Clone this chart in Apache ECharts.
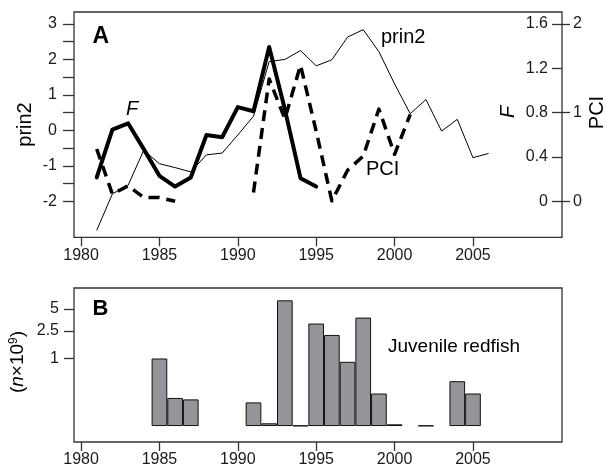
<!DOCTYPE html>
<html>
<head>
<meta charset="utf-8">
<script src="https://cdn.jsdelivr.net/npm/echarts@6/dist/echarts.min.js"></script>
<style>
html,body{margin:0;padding:0;background:#fff;}
#chart{width:607px;height:474px;}
</style>
</head>
<body>
<div id="chart"></div>
<script>
// ---- Data ----
const prin2Years = [1981,1982,1983,1984,1985,1986,1987,1988,1989,1990,1991,1992,1993,1994,1995,1996,1997,1998,1999,2000,2001,2002,2003,2004,2005,2006];
const prin2Vals  = [-2.82,-1.79,-1.55,-0.56,-0.94,-1.05,-1.17,-0.69,-0.64,-0.13,0.40,1.94,2.00,2.25,1.82,1.99,2.63,2.84,2.22,1.31,0.47,0.87,-0.02,0.31,-0.77,-0.65];

const fYears = [1981,1982,1983,1984,1985,1986,1987,1988,1989,1990,1991,1992,1993,1994,1995];
const fVals  = [0.215,0.647,0.704,0.471,0.23,0.133,0.215,0.598,0.578,0.85,0.813,1.393,0.83,0.209,0.133];

const pciYears = [1981,1982,1983,1984,1985,1986,1987,1988,1989,1990,1991,1992,1993,1994,1995,1996,1997,1998,1999,2000,2001];
const pciVals  = [0.59,0.08,0.175,0.042,0.042,0.0,null,null,null,null,0.1,1.38,0.93,1.535,0.79,0.005,0.35,0.51,1.04,0.53,0.98];

const redfishYears = [1985,1986,1987,1991,1992,1993,1994,1995,1996,1997,1998,1999,2000,2002,2004,2005];
const redfishVals  = [1.0,0.2,0.185,0.156,0.013,6.5,0.002,3.15,2.19,0.89,3.8,0.25,0.008,0.002,0.43,0.25];

const xTicks = [1980,1985,1990,1995,2000,2005];
const prin2Ticks = [-2,-1.5,-1,-0.5,0,0.5,1,1.5,2,2.5,3];
const prin2Labels = [-2,-1,0,1,2,3];
const fTicks = [0,0.4,0.8,1.2,1.6];
const pciTicks = [0,1,2];
const redfishTicks = [1,2.5,5];

// ---- scale helper for panel B (log of n with an offset) ----
const OFF = 0.15;
const tB = n => Math.log10(1 + n / OFF);

const FONT = "'Liberation Sans', Arial, sans-serif";
const TXT = '#1a1a1a';

const chart = echarts.init(document.getElementById('chart'));

const lineA = (years, vals) => years.map((y, i) => [y, vals[i] === null ? '-' : vals[i]]);

function xAxisFor(gi) {
  return {
    gridIndex: gi, type: 'value', min: 1979.55, max: 2010.68,
    axisLine: { show: false, onZero: false },
    splitLine: { show: false },
    axisTick: { show: true, customValues: xTicks, length: 9, lineStyle: { color: '#333', width: 1.3 } },
    axisLabel: { customValues: xTicks, fontSize: 16, color: TXT, fontFamily: FONT, margin: 10, formatter: v => String(v) }
  };
}
const plainFmt = v => String(v);

const option = {
  animation: false,
  backgroundColor: '#fff',
  grid: [
    { left: 74, top: 12, width: 488, height: 225.3, show: true, borderColor: '#333', borderWidth: 1.3, backgroundColor: 'transparent' },
    { left: 74, top: 288, width: 488, height: 154, show: true, borderColor: '#333', borderWidth: 1.3, backgroundColor: 'transparent' }
  ],
  xAxis: [ xAxisFor(0), xAxisFor(1) ],
  yAxis: [
    { gridIndex: 0, type: 'value', min: -3.015, max: 3.338, position: 'left',
      axisLine: { show: false, onZero: false }, splitLine: { show: false },
      axisTick: { show: true, customValues: prin2Ticks, length: 11, lineStyle: { color: '#333', width: 1.3 } },
      axisLabel: { customValues: prin2Labels, fontSize: 16, color: TXT, fontFamily: FONT, margin: 17, formatter: plainFmt } },
    { gridIndex: 0, type: 'value', min: -0.3248, max: 1.7082, position: 'right',
      axisLine: { show: false, onZero: false }, splitLine: { show: false },
      axisTick: { show: true, inside: true, customValues: fTicks, length: 10, lineStyle: { color: '#333', width: 1.3 } },
      axisLabel: { inside: true, customValues: fTicks, fontSize: 16, color: TXT, fontFamily: FONT, margin: 14, formatter: plainFmt } },
    { gridIndex: 0, type: 'value', min: -0.406, max: 2.1352, position: 'right',
      axisLine: { show: false, onZero: false }, splitLine: { show: false },
      axisTick: { show: true, customValues: pciTicks, length: 8, lineStyle: { color: '#333', width: 1.3 } },
      axisLabel: { customValues: pciTicks, fontSize: 16, color: TXT, fontFamily: FONT, margin: 11, formatter: plainFmt } },
    { gridIndex: 1, type: 'value', min: -0.209, max: 1.808, position: 'left',
      axisLine: { show: false, onZero: false }, splitLine: { show: false },
      axisTick: { show: true, customValues: redfishTicks.map(tB), length: 10, lineStyle: { color: '#333', width: 1.3 } },
      axisLabel: { customValues: redfishTicks.map(tB), fontSize: 16, color: TXT, fontFamily: FONT, margin: 15,
        formatter: v => { let best = redfishTicks[0]; redfishTicks.forEach(t => { if (Math.abs(tB(t) - v) < Math.abs(tB(best) - v)) best = t; }); return String(best); } } }
  ],
  series: [
    { name: 'prin2', type: 'line', xAxisIndex: 0, yAxisIndex: 0, data: lineA(prin2Years, prin2Vals),
      symbol: 'none', lineStyle: { color: '#000', width: 1 }, z: 3 },
    { name: 'F', type: 'line', xAxisIndex: 0, yAxisIndex: 1, data: lineA(fYears, fVals),
      symbol: 'none', lineStyle: { color: '#000', width: 4, join: 'round', cap: 'round' }, z: 4 },
    { name: 'PCI', type: 'line', xAxisIndex: 0, yAxisIndex: 2, data: lineA(pciYears, pciVals),
      symbol: 'none', connectNulls: false, lineStyle: { color: '#000', width: 3.5, type: [11, 7], cap: 'butt', join: 'round' }, z: 5 },
    { name: 'Juvenile redfish', type: 'bar', xAxisIndex: 1, yAxisIndex: 3,
      data: redfishYears.map((y, i) => [y, tB(redfishVals[i])]),
      barWidth: 15.68,
      itemStyle: { color: '#939598', borderColor: '#111', borderWidth: 1 } }
  ],
  graphic: [
    { type: 'text', x: 92.5, y: 36.5, style: { text: 'A', font: 'bold 23px ' + FONT, fill: '#000', textAlign: 'left', textVerticalAlign: 'middle' } },
    { type: 'text', x: 92.5, y: 308.7, style: { text: 'B', font: 'bold 22px ' + FONT, fill: '#000', textAlign: 'left', textVerticalAlign: 'middle' } },
    { type: 'text', x: 126, y: 109.5, style: { text: 'F', font: 'italic 20px ' + FONT, fill: '#000', textAlign: 'left', textVerticalAlign: 'middle' } },
    { type: 'text', x: 381, y: 37.5, style: { text: 'prin2', font: '20px ' + FONT, fill: '#000', textAlign: 'left', textVerticalAlign: 'middle' } },
    { type: 'text', x: 366, y: 169.5, style: { text: 'PCI', font: '20px ' + FONT, fill: '#000', textAlign: 'left', textVerticalAlign: 'middle' } },
    { type: 'text', x: 388, y: 346.5, style: { text: 'Juvenile redfish', font: '19px ' + FONT, fill: '#000', textAlign: 'left', textVerticalAlign: 'middle' } },
    { type: 'text', x: 25.5, y: 124.5, rotation: Math.PI / 2, style: { text: 'prin2', font: '20px ' + FONT, fill: '#000', textAlign: 'center', textVerticalAlign: 'middle' } },
    { type: 'text', x: 508, y: 112, rotation: Math.PI / 2, style: { text: 'F', font: 'italic 20px ' + FONT, fill: '#000', textAlign: 'center', textVerticalAlign: 'middle' } },
    { type: 'text', x: 597.5, y: 112.5, rotation: Math.PI / 2, style: { text: 'PCI', font: '20px ' + FONT, fill: '#000', textAlign: 'center', textVerticalAlign: 'middle' } },
    { type: 'text', x: 18, y: 362, rotation: Math.PI / 2, style: {
        text: '{a|(}{i|n}{a|×10}{s|9}{a|)}', textAlign: 'center', textVerticalAlign: 'middle',
        rich: {
          a: { fontSize: 19, fontFamily: FONT, fill: '#000', color: '#000' },
          i: { fontSize: 19, fontFamily: FONT, fontStyle: 'italic', color: '#000' },
          s: { fontSize: 12, fontFamily: FONT, color: '#000', verticalAlign: 'top', padding: [0, 0, 8, 0] }
        } } }
  ]
};
chart.setOption(option);
</script>
</body>
</html>
